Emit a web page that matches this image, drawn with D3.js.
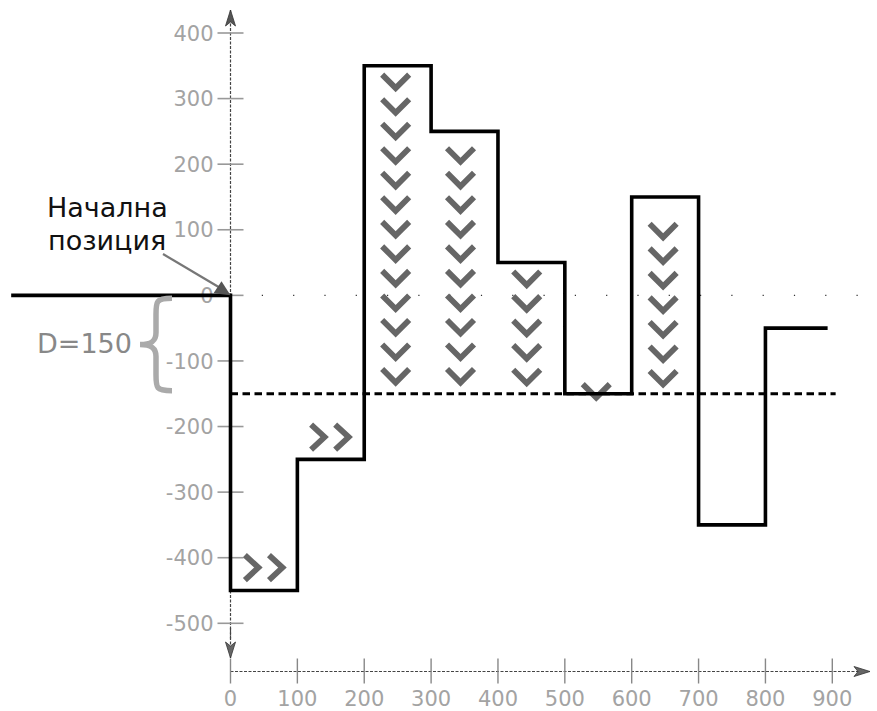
<!DOCTYPE html>
<html>
<head>
<meta charset="utf-8">
<script src="https://cdn.jsdelivr.net/npm/d3@7"></script>
<style>
  html, body { margin: 0; padding: 0; background: #fff; }
  svg { display: block; }
  text { font-family: "DejaVu Sans", Verdana, sans-serif; }
</style>
</head>
<body>
<svg id="chart" width="877" height="711"></svg>
<script>
// ---------------- DATA ----------------
const xTicks = [0, 100, 200, 300, 400, 500, 600, 700, 800, 900];
const yTicks = [400, 300, 200, 100, 0, -100, -200, -300, -400, -500];
// step path: x breakpoints and the level held after each breakpoint
const stepX = [-328, 0, 100, 200, 300, 400, 500, 600, 700, 800, 893];
const stepLevel = [0, -450, -250, 350, 250, 50, -150, 150, -350, -50, -50];
const thresholdLevel = -150;          // D = 150 below the start
const thresholdEnd = 905;
// downward chevron columns: x centre, number of chevrons, centre of lowest chevron
const downColX = [247, 344, 443, 547, 647];
const downColCount = [13, 10, 5, 1, 7];
const downColBottom = [-123, -123, -124, -146, -126];
const downSpacing = 37.4;
// rightward chevron pairs
const rightX = [32, 68, 131, 167];
const rightY = [-415, -415, -216, -216];
const labelLines = ["Начална", "позиция"];
const braceLabel = "D=150";

// ---------------- SCALES ----------------
const svg = d3.select("#chart");
const x = d3.scaleLinear().domain([0, 900]).range([230.5, 832.3]);
const y = d3.scaleLinear().domain([400, -500]).range([33, 623.3]);
const axisY = 671.5;
const x0 = x(0);

const defs = svg.append("defs");
defs.append("marker").attr("id", "arrUp")
  .attr("viewBox", "-6 -1 12 18").attr("markerWidth", 12).attr("markerHeight", 18)
  .attr("markerUnits", "userSpaceOnUse").attr("refX", 0).attr("refY", 0).attr("orient", "0")
  .append("path").attr("d", "M0,0 L-5,16 L0,12 L5,16 Z").attr("fill", "#555").attr("stroke", "#333").attr("stroke-width", 0.8);
defs.append("marker").attr("id", "arrDown")
  .attr("viewBox", "-6 -17 12 18").attr("markerWidth", 12).attr("markerHeight", 18)
  .attr("markerUnits", "userSpaceOnUse").attr("refX", 0).attr("refY", 0).attr("orient", "0")
  .append("path").attr("d", "M0,0 L-5,-16 L0,-12 L5,-16 Z").attr("fill", "#666").attr("stroke", "#333").attr("stroke-width", 0.8);
defs.append("marker").attr("id", "arrRight")
  .attr("viewBox", "-17 -6 18 12").attr("markerWidth", 18).attr("markerHeight", 12)
  .attr("markerUnits", "userSpaceOnUse").attr("refX", 0).attr("refY", 0).attr("orient", "0")
  .append("path").attr("d", "M0,0 L-16,-5 L-12,0 L-16,5 Z").attr("fill", "#666").attr("stroke", "#333").attr("stroke-width", 0.8);

// zero dotted line
svg.append("line")
  .attr("x1", x0).attr("x2", 872).attr("y1", y(0)).attr("y2", y(0))
  .attr("stroke", "#333").attr("stroke-width", 1.2).attr("stroke-dasharray", "1.2,30.1");

// y axis (dashed vertical with arrows)
svg.append("line")
  .attr("x1", x0).attr("x2", x0).attr("y1", 10).attr("y2", 640)
  .attr("stroke", "#444").attr("stroke-width", 1.2).attr("stroke-dasharray", "3,1.5")
  .attr("marker-start", "url(#arrUp)");
svg.append("line")
  .attr("x1", x0).attr("x2", x0).attr("y1", 628).attr("y2", 658)
  .attr("stroke", "#444").attr("stroke-width", 1.2).attr("stroke-dasharray", "3,1.5")
  .attr("marker-end", "url(#arrDown)");

// x axis (dashed horizontal with arrow)
svg.append("line")
  .attr("x1", x0).attr("x2", 870).attr("y1", axisY).attr("y2", axisY)
  .attr("stroke", "#444").attr("stroke-width", 1.2).attr("stroke-dasharray", "3,1.5")
  .attr("marker-end", "url(#arrRight)");

// y ticks and labels
const yt = svg.append("g");
yt.selectAll("line").data(yTicks).join("line")
  .attr("x1", x0 - 13).attr("x2", x0 + 13)
  .attr("y1", d => y(d)).attr("y2", d => y(d))
  .attr("stroke", "#999").attr("stroke-width", 1.6);
yt.selectAll("text").data(yTicks).join("text")
  .attr("x", x0 - 17).attr("y", d => y(d)).attr("dy", "0.36em")
  .attr("text-anchor", "end").attr("font-size", 21).attr("fill", "#a3a3a3")
  .text(d => String(d));

// x ticks and labels
const xt = svg.append("g");
xt.selectAll("line").data(xTicks).join("line")
  .attr("x1", d => x(d)).attr("x2", d => x(d))
  .attr("y1", axisY - 13).attr("y2", axisY + 12)
  .attr("stroke", "#888").attr("stroke-width", 1.4);
xt.selectAll("text").data(xTicks).join("text")
  .attr("x", d => x(d)).attr("y", 706)
  .attr("text-anchor", "middle").attr("font-size", 21).attr("fill", "#a3a3a3")
  .text(d => String(d));

// threshold dashed line
svg.append("line")
  .attr("x1", x(0)).attr("x2", x(thresholdEnd))
  .attr("y1", y(thresholdLevel)).attr("y2", y(thresholdLevel))
  .attr("stroke", "#000").attr("stroke-width", 3.2).attr("stroke-dasharray", "7.5,4.5");

// chevrons (down)
const downData = [];
downColX.forEach((cx, i) => {
  for (let k = 0; k < downColCount[i]; k++) downData.push({ x: cx, y: downColBottom[i] + k * downSpacing });
});
svg.append("g").selectAll("path").data(downData).join("path")
  .attr("transform", d => `translate(${x(d.x)},${y(d.y)})`)
  .attr("d", "M-13.5,-7 L0,6.5 L13.5,-7")
  .attr("fill", "none").attr("stroke", "#666").attr("stroke-width", 5.8)
  .attr("stroke-linejoin", "miter").attr("stroke-linecap", "butt");

// chevrons (right)
svg.append("g").selectAll("path").data(rightX.map((v, i) => ({ x: v, y: rightY[i] }))).join("path")
  .attr("transform", d => `translate(${x(d.x)},${y(d.y)})`)
  .attr("d", "M-7,-12.5 L6.5,0 L-7,12.5")
  .attr("fill", "none").attr("stroke", "#666").attr("stroke-width", 5.8)
  .attr("stroke-linejoin", "miter").attr("stroke-linecap", "butt");

// step line
const stepPts = stepX.map((v, i) => [v, stepLevel[i]]);
svg.append("path")
  .attr("d", d3.line().x(d => x(d[0])).y(d => y(d[1])).curve(d3.curveStepAfter)(stepPts))
  .attr("fill", "none").attr("stroke", "#000").attr("stroke-width", 3.6)
  .attr("stroke-linejoin", "miter");

// brace for D=150
const bt = y(0) + 3, bb = y(thresholdLevel) - 3, bm = (bt + bb) / 2;
const bxR = 172, bxM = 156, bxL = 140;
svg.append("path")
  .attr("d", `M${bxR},${bt} C${bxM},${bt} ${bxM},${bt + 3} ${bxM},${bt + 16} L${bxM},${bm - 12} C${bxM},${bm - 3} ${bxM - 5},${bm} ${bxL},${bm} C${bxM - 5},${bm} ${bxM},${bm + 3} ${bxM},${bm + 12} L${bxM},${bb - 16} C${bxM},${bb - 3} ${bxM},${bb} ${bxR},${bb}`)
  .attr("fill", "none").attr("stroke", "#aaa").attr("stroke-width", 5.5);
svg.append("text").attr("x", 37).attr("y", 353)
  .attr("font-size", 27).attr("fill", "#888").text(braceLabel);

// start annotation
svg.append("text").attr("x", 47).attr("y", 217).attr("font-size", 27).attr("fill", "#111").text(labelLines[0]);
svg.append("text").attr("x", 48).attr("y", 250).attr("font-size", 27).attr("fill", "#111").text(labelLines[1]);
svg.append("line").attr("x1", 163).attr("y1", 254).attr("x2", 222).attr("y2", 289)
  .attr("stroke", "#777").attr("stroke-width", 2.2);
svg.append("path")
  .attr("d", `M${x0},${y(0)} L${x0 - 17},${y(0) - 2} L${x0 - 9},${y(0) - 14} Z`)
  .attr("fill", "#555");
</script>
</body>
</html>
